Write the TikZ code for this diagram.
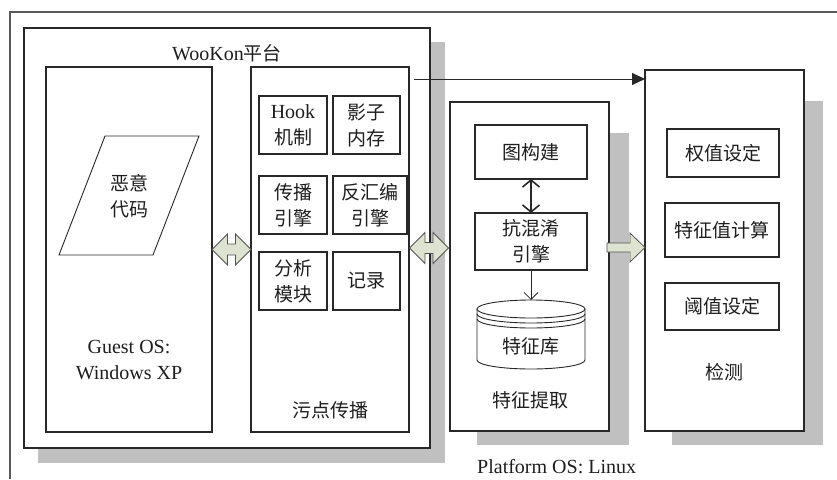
\documentclass[tikz,border=0pt]{standalone}
\usepackage{fontspec}
\setmainfont{Liberation Serif}
\newfontfamily\cjk{Noto Sans CJK SC}
\usetikzlibrary{arrows.meta,calc}
\definecolor{shade}{RGB}{192,192,192}
\definecolor{afill}{RGB}{221,227,208}
\definecolor{edge}{RGB}{40,40,40}
\definecolor{txt}{RGB}{30,30,30}
\begin{document}
\begin{tikzpicture}[x=1pt,y=-1pt,
  every node/.style={text=txt},
  lat/.style={font=\fontsize{20}{26}\selectfont, align=center, inner sep=0pt},
  zh/.style={font=\fontsize{19}{26}\selectfont\cjk, align=center, inner sep=0pt},
  box/.style={draw=edge, line width=1.1pt, fill=white, rectangle, inner sep=0pt, outer sep=0pt, align=center},
  shadowbox/.style={fill=shade},
  blockarrow/.style={draw=edge!80, line width=0.8pt, fill=afill, line join=miter},
  thinarrow/.style={draw=edge, line width=0.8pt},
]
\useasboundingbox (0,0) rectangle (837,479);
\fill[white] (0,0) rectangle (837,479);
% outer frame
\draw[black!65, line width=1.2pt] (10,479) -- (10,12) -- (837,12);

% shadows
\fill[shadowbox] (38,42) rectangle (445,463);
\fill[shadowbox] (477,133) rectangle (629,445);
\fill[shadowbox] (672,101) rectangle (823,445);

% WooKon platform
\node[box, minimum width=406pt, minimum height=420pt] (wookon) at (227,238) {};
\node[lat] (wklabel) at (227,53) {WooKon{\cjk\fontsize{19}{26}\selectfont 平台}};

% Guest OS box
\node[box, minimum width=166pt, minimum height=365pt] (guest) at (129,249.5) {};
\coordinate (p1) at (105,136);
\coordinate (p2) at (199,136);
\coordinate (p3) at (153,255);
\coordinate (p4) at (59,255);
\draw[edge, line width=0.9pt, fill=white] (p1) -- (p2) -- (p3) -- (p4) -- cycle;
\node[zh] (mal) at (129,196) {恶意\\代码};
\node[lat] (guestlabel) at (129,360) {Guest OS:\\Windows XP};

% taint box
\node[box, minimum width=158pt, minimum height=365pt] (taint) at (330,249.5) {};
\node[box, lat, minimum width=68pt, minimum height=58pt] (hook) at (293,125) {Hook\\{\cjk\fontsize{19}{26}\selectfont 机制}};
\node[box, zh, minimum width=67pt, minimum height=58pt] (shmem) at (366.5,125) {影子\\内存};
\node[box, zh, minimum width=68pt, minimum height=58pt] (prop) at (293,205) {传播\\引擎};
\node[box, zh, minimum width=74pt, minimum height=58pt] (disasm) at (370,205) {反汇编\\引擎};
\node[box, zh, minimum width=68pt, minimum height=58pt] (anal) at (293,281) {分析\\模块};
\node[box, zh, minimum width=67pt, minimum height=58pt] (rec) at (366.5,281) {记录};
\node[zh] (taintlabel) at (330,410) {污点传播};

% feature extraction box
\node[box, minimum width=159pt, minimum height=329pt] (tz) at (529.5,266.5) {};
\node[box, zh, minimum width=112pt, minimum height=54pt] (graph) at (531,152) {图构建};
\node[box, zh, minimum width=112pt, minimum height=57pt] (anti) at (531,241.5) {抗混淆\\引擎};
% cylinder
\draw[edge, line width=0.9pt, fill=white]
  (477,309) -- (477,360) arc[start angle=180, end angle=360, x radius=54pt, y radius=9pt] -- (585,309);
\draw[edge, line width=0.9pt, fill=white] (531,309) ellipse[x radius=54pt, y radius=9pt];
\draw[edge, line width=0.9pt] (477,314) arc[start angle=180, end angle=360, x radius=54pt, y radius=9pt];
\draw[edge, line width=0.9pt] (477,319) arc[start angle=180, end angle=360, x radius=54pt, y radius=9pt];
\coordinate (cyltop) at (531,300);
\node[zh] (db) at (531,346) {特征库};
\node[zh] (tzlabel) at (530,400) {特征提取};
\draw[edge, line width=1.6pt, {Straight Barb[length=7pt,width=17pt]}-{Straight Barb[length=7pt,width=17pt]}] (graph.south) -- (anti.north);
\draw[thinarrow, -{Straight Barb[length=7pt,width=14pt]}] (anti.south) -- (cyltop);

% detection box
\node[box, minimum width=159pt, minimum height=361pt] (jc) at (724.5,250.5) {};
\node[box, zh, minimum width=112pt, minimum height=48pt] (weight) at (723,153) {权值设定};
\node[box, zh, minimum width=114pt, minimum height=54pt] (feat) at (722,230) {特征值计算};
\node[box, zh, minimum width=114pt, minimum height=47pt] (thr) at (722,306.5) {阈值设定};
\node[zh] (jclabel) at (724,372) {检测};

% platform label
\node[lat, anchor=west] (plat) at (477,467) {Platform OS: Linux};

% block arrows
\draw[blockarrow] (guest.east) -- ++(15.5,-15.5) -- ++(0,10) -- ++(8,0) -- ++(0,-10) -- ++(15.5,15.5)
  -- ++(-15.5,15.5) -- ++(0,-10) -- ++(-8,0) -- ++(0,10) -- cycle;
\coordinate (a2) at ($(taint.east)+(0.5,-1.5)$);
\draw[blockarrow] (a2) -- ++(15.5,-15.5) -- ++(0,10) -- ++(8,0) -- ++(0,-10) -- ++(15.5,15.5)
  -- ++(-15.5,15.5) -- ++(0,-10) -- ++(-8,0) -- ++(0,10) -- cycle;
\coordinate (sa) at (607,247.5);
\draw[blockarrow] ($(sa)+(0,-4.5)$) -- ++(23,0) -- ++(0,-10) -- ($(sa -| jc.west)$) -- ($(sa)+(23,14.5)$)
  -- ++(0,-10) -- ++(-23,0) -- cycle;

% top arrow
\coordinate (topstart) at (414,79);
\draw[edge, line width=1pt, -{Triangle[length=13pt,width=12pt]}] (topstart) -- (topstart -| jc.west);
\end{tikzpicture}
\end{document}
